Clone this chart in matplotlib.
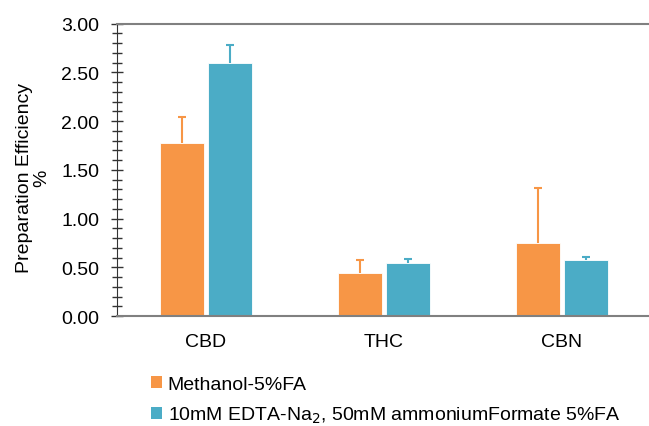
import matplotlib
matplotlib.use("Agg")
import matplotlib.pyplot as plt
import numpy as np
from matplotlib.patches import Patch
from matplotlib.ticker import MultipleLocator

plt.rcParams['font.family'] = ['Liberation Sans', 'DejaVu Sans']

categories = ["CBD", "THC", "CBN"]
series_names = ["Methanol-5%FA", r"10mM EDTA-Na$_2$, 50mM ammoniumFormate 5%FA"]
methanol = [1.77, 0.44, 0.75]
methanol_err = [0.27, 0.13, 0.56]
edta = [2.59, 0.54, 0.57]
edta_err = [0.19, 0.04, 0.04]
colors = ["#F79646", "#4BACC6"]

fig = plt.figure(figsize=(6.49, 4.27), dpi=100)
ax = fig.add_axes([0.180, 0.2576, 0.82, 0.685])

x = np.arange(len(categories))
w = 0.246
off = 0.134
for vals, errs, c, d in [(methanol, methanol_err, colors[0], -off), (edta, edta_err, colors[1], off)]:
    ax.bar(x + d, vals, width=w, color=c, edgecolor="white", linewidth=0.6, zorder=2)
    _, caps, _ = ax.errorbar(x + d, vals, yerr=[np.zeros(len(vals)), errs], fmt="none",
                             ecolor=c, elinewidth=1.5, capsize=3, capthick=1.5, zorder=3)
    # upper-only error bars: hide the cap sitting on the bar top
    caps[0].set_visible(False)

ax.set_xlim(-0.5, 2.49)
ax.set_ylim(0, 3.0)
ax.set_xticks(x)
ax.set_xticklabels(categories, fontsize=14)
ax.tick_params(axis="x", length=0, pad=12)
ax.yaxis.set_major_locator(MultipleLocator(0.5))
ax.yaxis.set_minor_locator(MultipleLocator(0.1))
ax.set_yticklabels([f"{v:.2f}" for v in ax.get_yticks()], fontsize=14)
ax.tick_params(axis="y", which="major", direction="inout", length=9, width=1, color="#333333", pad=8)
ax.tick_params(axis="y", which="minor", direction="inout", length=7, width=1, color="#333333")
ax.set_ylabel("Preparation Efficiency\n%", fontsize=14, linespacing=1.0)
ax.yaxis.set_label_coords(-0.125, 0.475)

ax.spines["right"].set_visible(False)
ax.spines["left"].set_color("#333333")
ax.spines["bottom"].set_color("#808080")
ax.spines["bottom"].set_linewidth(1.5)
ax.spines["top"].set_color("#808080")
ax.spines["top"].set_linewidth(1.5)

handles = [Patch(facecolor=c, edgecolor="none") for c in colors]
fig.legend(handles, series_names, loc="upper left", bbox_to_anchor=(0.233, 0.117),
           frameon=False, fontsize=14, handlelength=0.55, handleheight=0.55,
           handletextpad=0.3, labelspacing=0.6, borderaxespad=0, borderpad=0)

fig.savefig("out.png", dpi=100)
